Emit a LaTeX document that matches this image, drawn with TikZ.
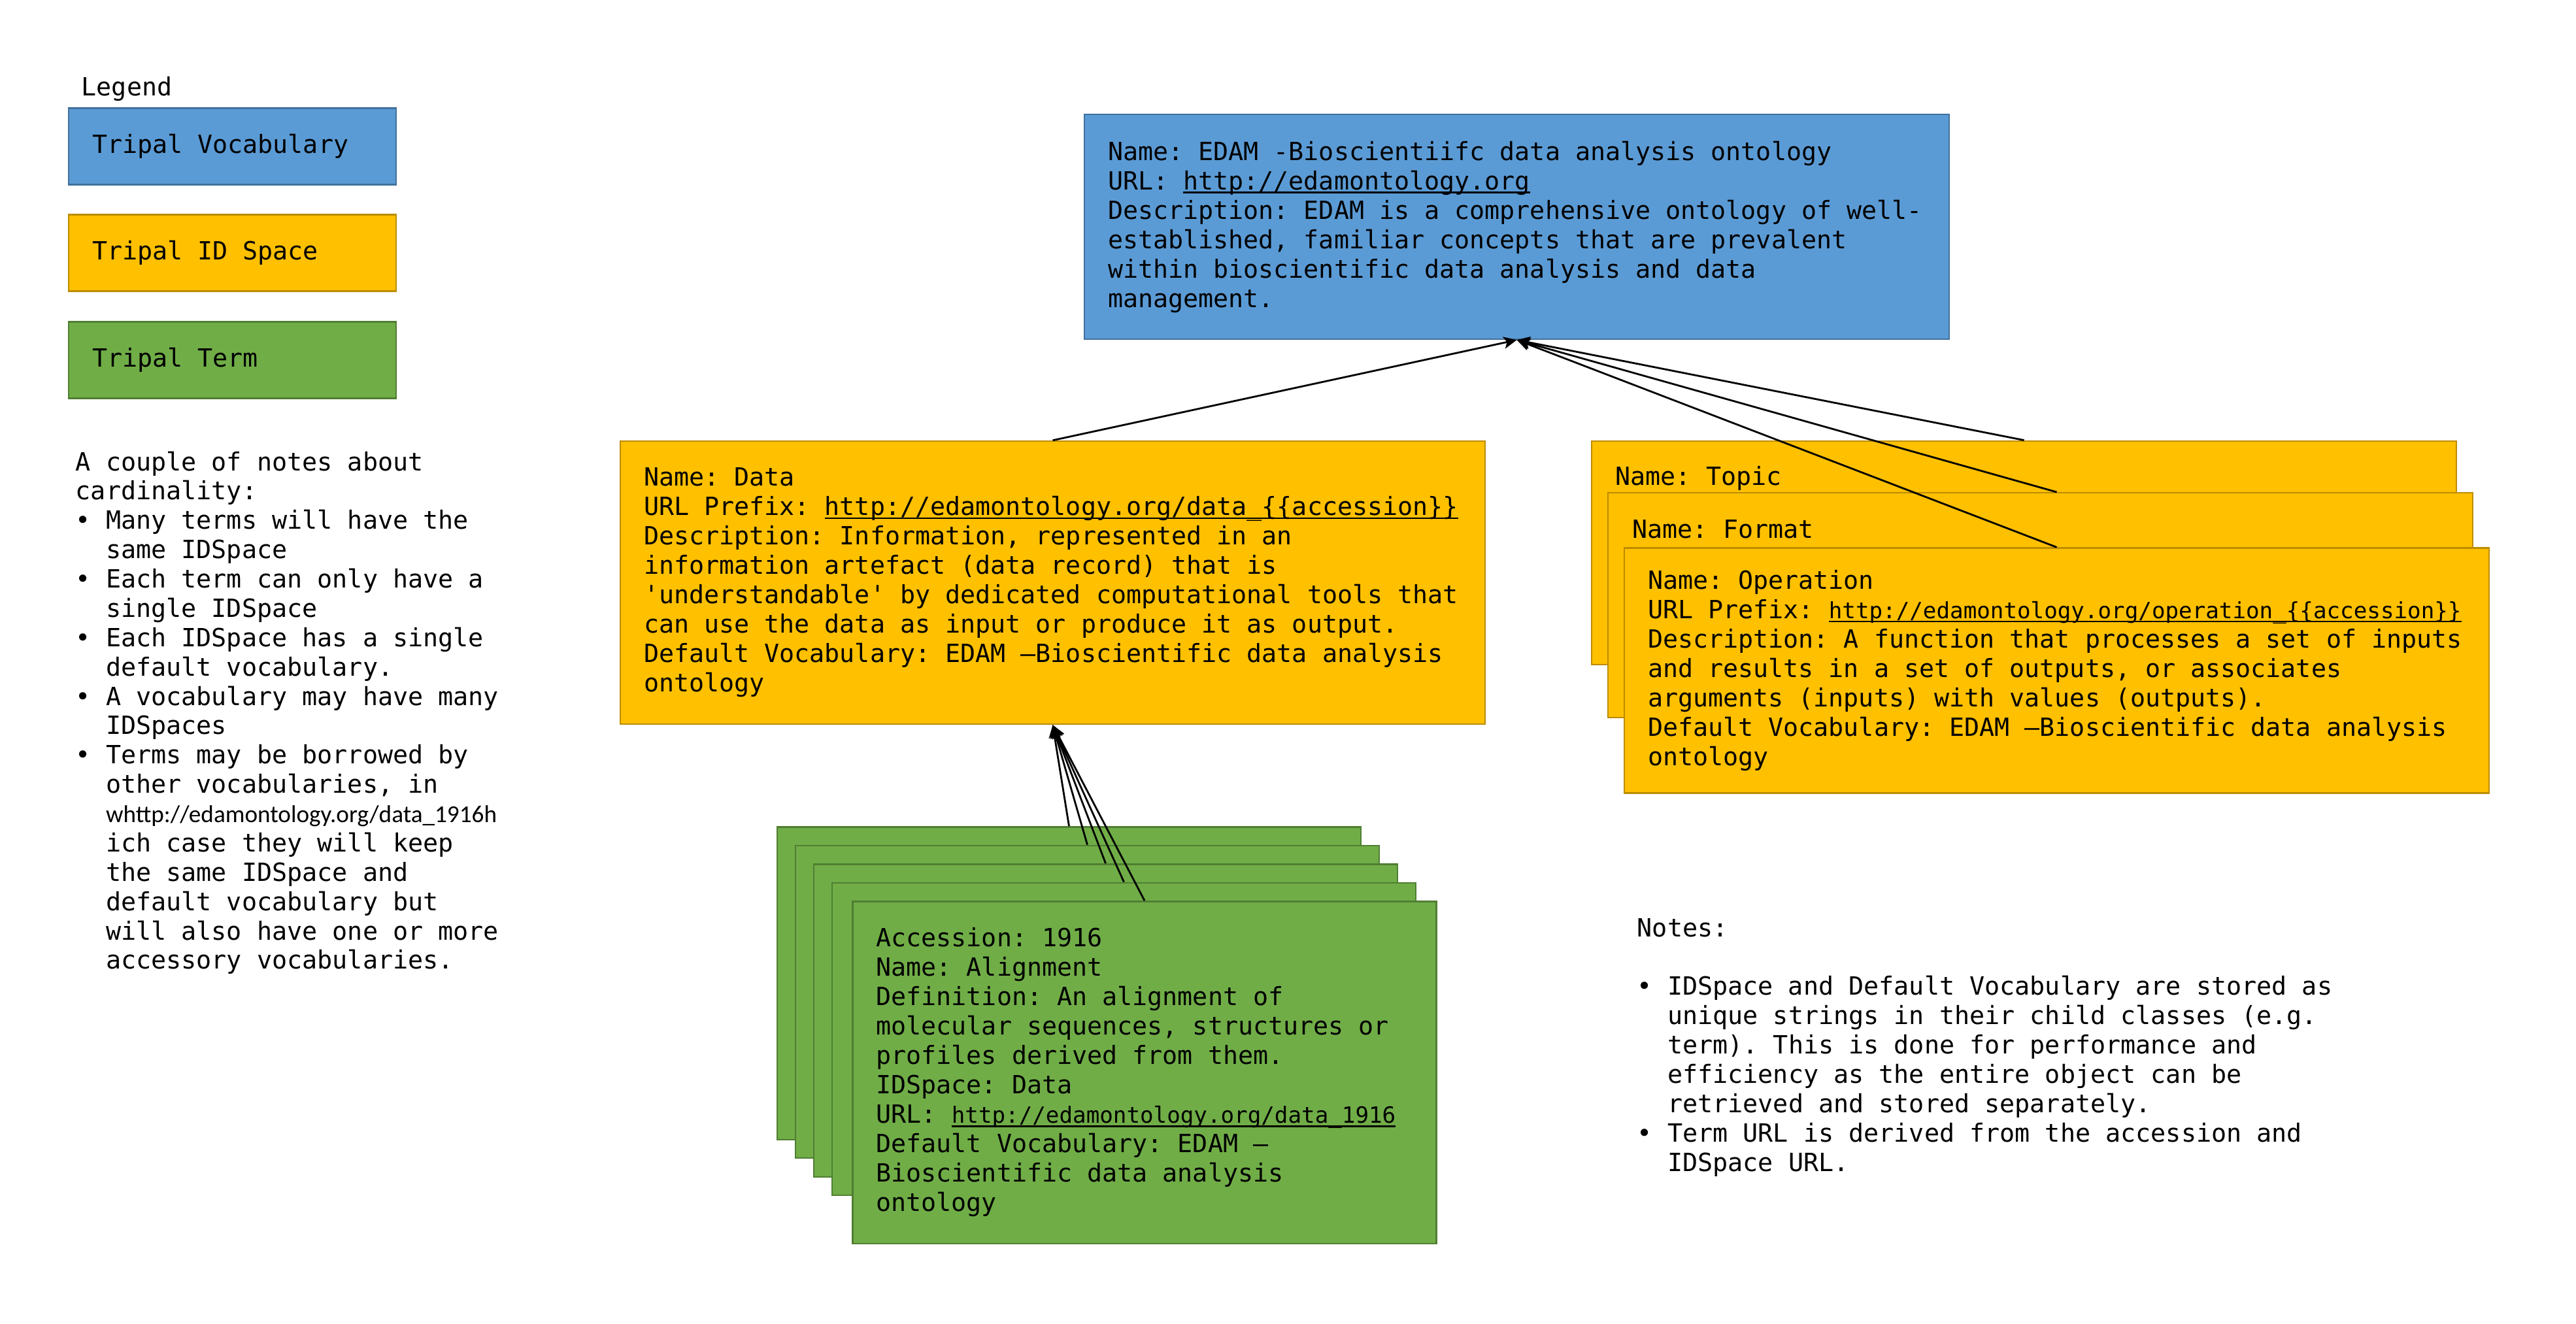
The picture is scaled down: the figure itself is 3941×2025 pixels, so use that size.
\documentclass[tikz,border=0pt]{standalone}
\usepackage{fontspec}
\setmainfont{DejaVu Sans Mono}
\newfontfamily\calibri{Carlito}
\usetikzlibrary{arrows.meta,calc}
\setlength\parindent{0pt}
\frenchspacing

\definecolor{vocabfill}{HTML}{5B9BD5}
\definecolor{vocabline}{HTML}{41719C}
\definecolor{idfill}{HTML}{FFC000}
\definecolor{idline}{HTML}{BC8C00}
\definecolor{termfill}{HTML}{70AD47}
\definecolor{termline}{HTML}{507E32}

\newcommand{\setmono}[2]{\fontsize{#1}{#2}\selectfont}
\newcommand{\boxfont}{\setmono{9.58}{11.25}}
\newcommand{\fixspace}{\spaceskip=0.6021em\xspaceskip=0.6021em\relax}
\newcommand{\weblink}[1]{\setbox0=\hbox{#1}\rlap{\rule[-1.4pt]{\wd0}{0.55pt}}\box0}
\newcommand{\smalllink}[1]{\weblink{\fontsize{8.55}{11.25}\selectfont #1}}
\newcommand{\bul}{\textbullet\ }
\newcommand{\ind}{\hphantom{\textbullet\ }}

\tikzset{
  card/.style={draw, line width=0.6pt, inner xsep=9pt, inner ysep=0pt, align=left, font=\boxfont,
    execute at begin node=\fixspace},
  vocabbox/.style={card, fill=vocabfill, draw=vocabline},
  idbox/.style={card, fill=idfill, draw=idline},
  termbox/.style={card, fill=termfill, draw=termline},
  wide/.style={text width=312.75pt, minimum width=330.75pt},
  narrow/.style={text width=205.25pt, minimum width=223.25pt},
  legendbox/.style={text width=107.25pt, minimum width=125.25pt, minimum height=29.25pt},
  cardtext/.style={inner sep=0pt, anchor=base west, align=left, font=\boxfont,
    execute at begin node=\fixspace},
  isa/.style={-{Stealth[length=5pt,width=4.6pt,inset=1.2pt]}, line width=0.7pt},
}

\begin{document}
\begin{tikzpicture}[x=0.25pt, y=-0.25pt]
\useasboundingbox (0,0) rectangle (3941,2025);

% legend
\node[cardtext] (legend) at (124,146) {Legend};
\node[vocabbox, legendbox] (legvocab) at (355.5,224) {Tripal Vocabulary};
\node[idbox, legendbox] (legid) at (355.5,387) {Tripal ID Space};
\node[termbox, legendbox] (legterm) at (355.5,551) {Tripal Term};

% notes on cardinality
\node[cardtext, text width=170pt, font=\setmono{9.6}{11.22}] (cardnotes) at (115,720) {A couple of notes about\\
cardinality:\\
\bul Many terms will have the\\
\ind same IDSpace\\
\bul Each term can only have a\\
\ind single IDSpace\\
\bul Each IDSpace has a single\\
\ind default vocabulary.\\
\bul A vocabulary may have many\\
\ind IDSpaces\\
\bul Terms may be borrowed by\\
\ind other vocabularies, in\\
\ind {\calibri\fontsize{9.3}{11.22}\selectfont whttp://edamontology.org/data\_1916h}\\
\ind ich case they will keep\\
\ind the same IDSpace and\\
\ind default vocabulary but\\
\ind will also have one or more\\
\ind accessory vocabularies.};

% vocabulary
\node[vocabbox, wide, minimum height=86pt] (edam) at (2320.5,347) {Name: EDAM -Bioscientiifc data analysis ontology\\
URL: \weblink{http://edamontology.org}\\
Description: EDAM is a comprehensive ontology of well-\\
established, familiar concepts that are prevalent\\
within bioscientific data analysis and data\\
management.};

% id spaces
\node[idbox, wide, minimum height=108.25pt] (data) at (1610.5,891.5) {Name: Data\\
URL Prefix: \weblink{http://edamontology.org/data\_\{\{accession\}\}}\\
Description: Information, represented in an\\
information artefact (data record) that is\\
\textquotesingle understandable\textquotesingle{} by dedicated computational tools that\\
can use the data as input or produce it as output.\\
Default Vocabulary: EDAM –Bioscientific data analysis\\
ontology};

\node[idbox, wide, minimum height=85.6pt] (topic) at (3096.5,846) {};
\node[cardtext] (topicname) at ($(topic.north west)+(37,69)$) {Name: Topic};
\node[idbox, wide, minimum height=85.9pt] (format) at (3121.5,926) {};
\node[cardtext] (formatname) at ($(format.north west)+(38,70)$) {Name: Format};
\node[idbox, wide, minimum height=93.7pt] (operation) at (3146.5,1026) {Name: Operation\\
URL Prefix: \smalllink{http://edamontology.org/operation\_\{\{accession\}\}}\\
Description: A function that processes a set of inputs\\
and results in a set of outputs, or associates\\
arguments (inputs) with values (outputs).\\
Default Vocabulary: EDAM –Bioscientific data analysis\\
ontology};

% terms
\foreach \i in {1,...,4}
  \node[termbox, narrow, minimum height=119.6pt] (term\i) at ({1607.5+28*\i},{1476+28.5*\i}) {};
\node[termbox, narrow, minimum height=130.85pt] (term5) at (1751,1641) {Accession: 1916\\
Name: Alignment\\
Definition: An alignment of\\
molecular sequences, structures or\\
profiles derived from them.\\
IDSpace: Data\\
URL: \smalllink{http://edamontology.org/data\_1916}\\
Default Vocabulary: EDAM –\\
Bioscientific data analysis\\
ontology};

% relations
\draw[isa] (data.north) -- (edam.south);
\draw[isa] (topic.north) -- (edam.south);
\draw[isa] (format.north -| operation.north) -- (edam.south);
\draw[isa] (operation.north) -- (edam.south);
\foreach \i in {1,...,5}
  \draw[isa] (term\i.north) -- (data.south);

% general notes
\node[cardtext, text width=280pt, font=\setmono{9.6}{11.22}] (notes) at (2504,1433) {Notes:\\[11.22pt]
\bul IDSpace and Default Vocabulary are stored as\\
\ind unique strings in their child classes (e.g.\\
\ind term). This is done for performance and\\
\ind efficiency as the entire object can be\\
\ind retrieved and stored separately.\\
\bul Term URL is derived from the accession and\\
\ind IDSpace URL.};
\end{tikzpicture}
\end{document}
